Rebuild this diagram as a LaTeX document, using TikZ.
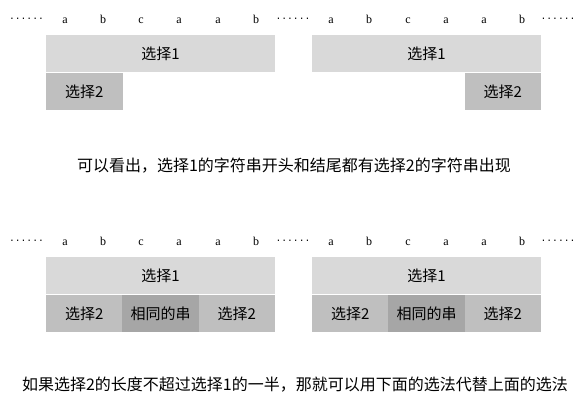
\documentclass[tikz,border=0pt]{standalone}
\usepackage{fontspec}
\setmainfont{Noto Sans CJK SC}
\newfontfamily\latinfont{Liberation Serif}
\newfontfamily\dotfont{Liberation Mono}
\definecolor{lightg}{HTML}{D9D9D9}
\definecolor{midg}{HTML}{BFBFBF}
\definecolor{darkg}{HTML}{A6A6A6}
\tikzset{
  cell/.style={draw=none, inner sep=0pt, minimum height=37.5pt, font=\fontsize{15}{15}\selectfont},
  wide/.style={cell, fill=lightg, minimum width=229pt},
  part/.style={cell, fill=midg, minimum width=76.5pt},
  same/.style={cell, fill=darkg, minimum width=76.5pt},
  letter/.style={anchor=base, inner sep=0pt, font=\latinfont\fontsize{12}{12}\selectfont},
  dots/.style={anchor=base, inner sep=0pt, font=\dotfont\fontsize{9.7}{10}\selectfont},
  caption/.style={inner sep=0pt, font=\fontsize{16}{16}\selectfont}
}
\begin{document}
\begin{tikzpicture}[x=1pt,y=-1pt]
\useasboundingbox (0,0) rectangle (582,406);
% ---------- top row ----------
\node[dots] (d1) at (26.5,20) {......};
\node[dots] (d2) at (293,20) {......};
\node[dots] (d3) at (558,20) {......};
\foreach \x/\l [count=\i] in {65/a,103/b,141/c,179/a,218/a,256/b}
  \node[letter] (la\i) at (\x,23.5) {\l};
\foreach \x/\l [count=\i] in {331/a,369/b,408/c,446/a,484/a,522/b}
  \node[letter] (lb\i) at (\x,23.5) {\l};
\node[wide] (t1) at (160.5,53.5) {选择1};
\node[part, anchor=north west] (t2) at (t1.south west) {选择2};
\node[wide] (u1) at (426.5,53.5) {选择1};
\node[part, anchor=north east] (u2) at (u1.south east) {选择2};
\node[caption] (c1) at (294,166) {可以看出，选择1的字符串开头和结尾都有选择2的字符串出现};
% ---------- bottom row ----------
\node[dots] (e1) at (26.5,241.5) {......};
\node[dots] (e2) at (293,241.5) {......};
\node[dots] (e3) at (558,241.5) {......};
\foreach \x/\l [count=\i] in {65/a,103/b,141/c,179/a,218/a,256/b}
  \node[letter] (ma\i) at (\x,245.5) {\l};
\foreach \x/\l [count=\i] in {331/a,369/b,408/c,446/a,484/a,522/b}
  \node[letter] (mb\i) at (\x,245.5) {\l};
\node[wide] (v1) at (160.5,275.5) {选择1};
\node[part, anchor=north west] (v2) at (v1.south west) {选择2};
\node[same, anchor=north] (v3) at (v1.south) {相同的串};
\node[part, anchor=north east] (v4) at (v1.south east) {选择2};
\node[wide] (w1) at (426.5,275.5) {选择1};
\node[part, anchor=north west] (w2) at (w1.south west) {选择2};
\node[same, anchor=north] (w3) at (w1.south) {相同的串};
\node[part, anchor=north east] (w4) at (w1.south east) {选择2};
\node[caption] (c2) at (295,385) {如果选择2的长度不超过选择1的一半，那就可以用下面的选法代替上面的选法};
\end{tikzpicture}
\end{document}
